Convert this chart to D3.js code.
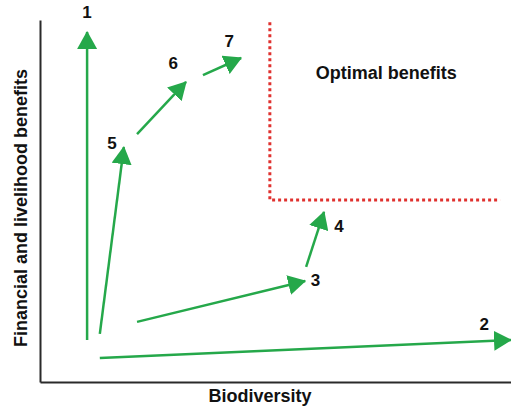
<!DOCTYPE html>
<html>
<head>
<meta charset="utf-8">
<script src="https://cdn.jsdelivr.net/npm/d3@7"></script>
<style>
  body { margin: 0; background: #fff; }
  #plot { width: 511px; height: 407px; display: block; }
  text { font-family: "Liberation Sans", Arial, sans-serif; font-weight: bold; fill: #111; }
</style>
</head>
<body>
<svg id="plot"></svg>
<script>
// arrow ids, labels and start / end points (data units 0-100)
const arrowLabels = ['1', '2', '3', '4', '5', '6', '7']
const arrowStart = [[10, 11.6], [12.7, 6.6], [20.6, 16.6], [56.5, 31.8], [12.7, 13.3], [20.6, 68.5], [34.6, 84.8]]
const arrowEnd = [[10, 96.7], [100, 11.6], [56.3, 27.9], [60.3, 47], [17.8, 64.9], [31, 82.9], [42.7, 89.5]]
// label positions relative to data
const labelPos = [[10, 100.5], [94.3, 14.5], [58.5, 26.5], [63.5, 41.5], [15.3, 64.5], [28.3, 86.5], [40.2, 92.5]]

// optimal zone corner
const optimalCorner = [48.8, 50.3]
const optimalEnds = [99.4, 97.7]   // y top, x right
const optimalText = 'Optimal benefits'

const plot = d3.select('#plot')
const widthPlot = 511
const heightPlot = 407

let xScale = d3.scaleLinear().domain([0, 100]).range([40, 511])
let yScale = d3.scaleLinear().domain([0, 100]).range([382, 20])

const green = '#25a84a'

plot.append('defs').append('marker')
    .attr('id', 'head')
    .attr('markerUnits', 'userSpaceOnUse')
    .attr('viewBox', '0 0 18 20')
    .attr('markerWidth', 18)
    .attr('markerHeight', 20)
    .attr('refX', 17)
    .attr('refY', 10)
    .attr('orient', 'auto')
  .append('path')
    .attr('d', 'M0,0 L18,10 L0,20 Z')
    .attr('fill', green)

// axes (no ticks)
const xAxis = d3.axisBottom(xScale).ticks(0).tickSizeOuter(0)
const yAxis = d3.axisLeft(yScale).ticks(0).tickSizeOuter(0)

plot.append('g')
    .classed('xAxis', true)
    .attr('transform', `translate(0, ${yScale(0)})`)
    .call(xAxis)
plot.append('g')
    .classed('yAxis', true)
    .attr('transform', `translate(${xScale(0)}, 0)`)
    .call(yAxis)
plot.selectAll('.domain')
    .attr('stroke', '#2a2a2a')
    .attr('stroke-width', 2)

// optimal benefits boundary
const corner = [xScale(optimalCorner[0]), yScale(optimalCorner[1])]
plot.append('path')
    .attr('d', `M${corner[0]},${yScale(optimalEnds[0])} L${corner[0]},${corner[1]} L${xScale(optimalEnds[1])},${corner[1]}`)
    .attr('fill', 'none')
    .attr('stroke', '#e0312e')
    .attr('stroke-width', 3)
    .attr('stroke-dasharray', '3,3')

plot.append('text')
    .attr('x', xScale(73.5))
    .attr('y', yScale(83.8))
    .attr('text-anchor', 'middle')
    .style('font-size', '18px')
    .text(optimalText)

// arrows
plot.selectAll('.arrow')
  .data(arrowLabels)
  .enter().append('line')
    .classed('arrow', true)
    .attr('x1', (d, i) => xScale(arrowStart[i][0]))
    .attr('y1', (d, i) => yScale(arrowStart[i][1]))
    .attr('x2', (d, i) => xScale(arrowEnd[i][0]))
    .attr('y2', (d, i) => yScale(arrowEnd[i][1]))
    .attr('stroke', green)
    .attr('stroke-width', 2.5)
    .attr('marker-end', 'url(#head)')

plot.selectAll('.num')
  .data(arrowLabels)
  .enter().append('text')
    .classed('num', true)
    .attr('x', (d, i) => xScale(labelPos[i][0]))
    .attr('y', (d, i) => yScale(labelPos[i][1]))
    .attr('text-anchor', 'middle')
    .style('font-size', '17px')
    .text(d => d)

// axis titles
plot.append('text')
    .attr('x', 260)
    .attr('y', 402)
    .attr('text-anchor', 'middle')
    .style('font-size', '18px')
    .text('Biodiversity')

plot.append('text')
    .attr('transform', `translate(27, 208) rotate(-90)`)
    .attr('text-anchor', 'middle')
    .style('font-size', '18px')
    .text('Financial and livelihood benefits')
</script>
</body>
</html>
